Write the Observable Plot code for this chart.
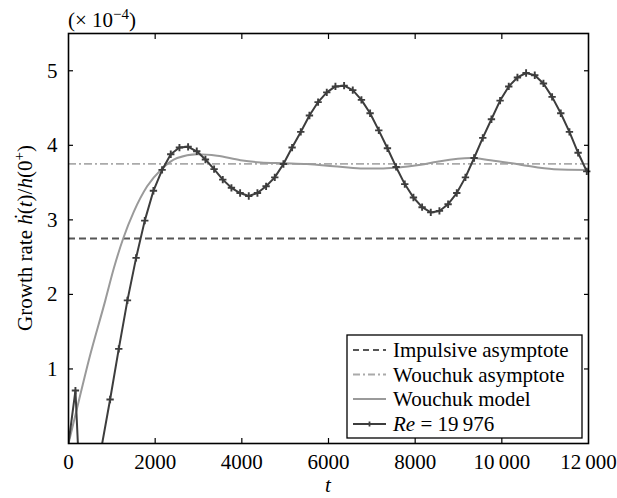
<!DOCTYPE html>
<html><head><meta charset="utf-8">
<script src="https://cdn.jsdelivr.net/npm/d3@7"></script>
<script src="https://cdn.jsdelivr.net/npm/@observablehq/plot@0.6"></script>
<style>
body{margin:0;background:#fff}
svg text{font-family:'Liberation Serif', serif !important}
</style>
</head><body><div id="chart"></div>
<script>
// Re = 19 976 simulation (t, growth rate ×1e-4)
const reT = [0,160,360,560,760,960,1160,1360,1560,1760,1960,2160,2360,2560,2760,2960,3160,3360,3560,3760,3960,4160,4360,4560,4760,4960,5160,5360,5560,5760,5960,6160,6360,6560,6760,6960,7160,7360,7560,7760,7960,8160,8360,8560,8760,8960,9160,9360,9560,9760,9960,10160,10360,10560,10760,10960,11160,11360,11560,11760,11960];
const reV = [0,0.71,-1.8,-1.0,-0.055,0.59,1.27,1.92,2.49,2.99,3.39,3.67,3.88,3.97,3.98,3.92,3.81,3.68,3.54,3.43,3.36,3.32,3.36,3.45,3.57,3.75,3.97,4.18,4.40,4.58,4.71,4.79,4.80,4.74,4.61,4.43,4.20,3.96,3.71,3.48,3.30,3.17,3.10,3.12,3.21,3.36,3.57,3.83,4.10,4.35,4.60,4.79,4.91,4.97,4.94,4.83,4.65,4.43,4.18,3.90,3.65];
// Wouchuk model
const wT = [0,250,470,850,1046,1262,1508,1815,2146,2508,2969,3431,3969,4431,4960,5500,6120,6738,7200,7546,8130,8508,9277,9739,10431,11200,12000];
const wV = [0,0.6,1.12,1.92,2.35,2.75,3.11,3.45,3.68,3.83,3.88,3.86,3.80,3.77,3.76,3.75,3.72,3.69,3.69,3.70,3.74,3.78,3.83,3.80,3.74,3.68,3.67];
const impulsiveAsym = 2.75;
const wouchukAsym = 3.75;
const xTicks = [0,2000,4000,6000,8000,10000,12000];
const xTicksInner = [2000,4000,6000,8000,10000];
const yTicks = [1,2,3,4,5];
const legendLabels = ["Impulsive asymptote","Wouchuk asymptote","Wouchuk model","Re = 19\u2009976"];

const re = reT.map((t,i)=>({t, v: reV[i]}));
const wouchuk = wT.map((t,i)=>({t, v: wV[i]}));
const fmtX = d => d >= 10000 ? String(d).replace(/(\d{2})(\d{3})$/, "$1\u2009$2") : String(d);

const dark = "#3d3d3d", grey = "#9a9a9a";
const ff = "Liberation Serif, serif";
const fs = 21;

const chart = Plot.plot({
  width: 617, height: 498,
  marginLeft: 68, marginRight: 29, marginTop: 33, marginBottom: 55,
  style: {fontFamily: ff, fontSize: fs + "px", background: "white", color: "black", overflow: "visible"},
  x: {domain: [0,12000], label: null},
  y: {domain: [0,5.5], label: null},
  marks: [
    Plot.ruleY([impulsiveAsym], {stroke: "#555", strokeWidth: 1.8, strokeDasharray: "7,4"}),
    Plot.ruleY([wouchukAsym], {stroke: "#aaa", strokeWidth: 1.8, strokeDasharray: "8,3,2,3"}),
    Plot.line(wouchuk, {x: "t", y: "v", stroke: grey, strokeWidth: 2, curve: "monotone-x", clip: true}),
    Plot.line(re, {x: "t", y: "v", stroke: dark, strokeWidth: 2, clip: true}),
    Plot.dot(re.filter(d => d.t > 0 && d.v >= 0), {x: "t", y: "v", symbol: "plus", r: 2.5, stroke: dark, strokeWidth: 1.9}),
    Plot.axisX({ticks: xTicks, tickSize: 0, tickPadding: 11, tickFormat: fmtX, fontSize: fs, label: null}),
    Plot.axisX({ticks: xTicksInner, tickSize: -5, fill: "none", label: null, stroke: "black", strokeWidth: 1.2}),
    Plot.axisX({anchor: "top", ticks: xTicksInner, tickSize: -5, fill: "none", label: null, stroke: "black", strokeWidth: 1.2}),
    Plot.axisY({ticks: yTicks, tickSize: 0, tickPadding: 11, tickFormat: d => String(d), fontSize: fs, label: null}),
    Plot.axisY({ticks: yTicks, tickSize: -5, fill: "none", label: null, stroke: "black", strokeWidth: 1.2}),
    Plot.axisY({anchor: "right", ticks: yTicks, tickSize: -5, fill: "none", label: null, stroke: "black", strokeWidth: 1.2}),
    Plot.frame({stroke: "black", strokeWidth: 1.6})
  ]
});
document.getElementById("chart").appendChild(chart);

const svg = d3.select(chart);
// exponent title
const ttl = svg.append("text").attr("x", 68).attr("y", 27).attr("text-anchor", "start")
  .style("font-size", fs + "px").attr("fill", "black");
ttl.append("tspan").text("(\u00d7 10");
ttl.append("tspan").attr("dy", -8).style("font-size", "15px").text("\u22124");
ttl.append("tspan").attr("dy", 8).text(")");
// y label
const yl = svg.append("text").attr("transform", "translate(32,238) rotate(-90)").attr("text-anchor", "middle")
  .style("font-size", fs + "px").attr("fill", "black");
yl.append("tspan").text("Growth rate ");
yl.append("tspan").attr("font-style", "italic").text("\u1e23");
yl.append("tspan").text("(");
yl.append("tspan").attr("font-style", "italic").text("t");
yl.append("tspan").text(")/");
yl.append("tspan").attr("font-style", "italic").text("h");
yl.append("tspan").text("(0");
yl.append("tspan").attr("dy", -8).style("font-size", "15px").text("+");
yl.append("tspan").attr("dy", 8).text(")");
// x label
svg.append("text").attr("x", 328).attr("y", 492).attr("text-anchor", "middle").style("font-size", fs + "px")
  .attr("font-style", "italic").attr("fill", "black").text("t");
// legend
const lg = svg.append("g");
lg.append("rect").attr("x", 347).attr("y", 335).attr("width", 235).attr("height", 103)
  .attr("fill", "white").attr("stroke", "black").attr("stroke-width", 1.3);
const rowsY = [350, 374.5, 399, 424];
const styles = [
  {stroke: "#555", dash: "6,4"},
  {stroke: "#aaa", dash: "7,3,2,3"},
  {stroke: grey, dash: null},
  {stroke: dark, dash: null}
];
legendLabels.forEach((lab, i) => {
  const y = rowsY[i];
  lg.append("line").attr("x1", 353).attr("x2", 386).attr("y1", y).attr("y2", y)
    .attr("stroke", styles[i].stroke).attr("stroke-width", 1.8).attr("stroke-dasharray", styles[i].dash);
  if (i === 3) {
    lg.append("path").attr("d", `M${369.5-2.5},${y}h5M369.5,${y-2.5}v5`).attr("stroke", dark).attr("stroke-width", 1.8);
  }
  const t = lg.append("text").attr("x", 393).attr("y", y + 7).attr("text-anchor", "start")
    .style("font-size", fs + "px").attr("fill", "black");
  if (i === 3) {
    t.append("tspan").attr("font-style", "italic").text("Re");
    t.append("tspan").text(" = 19\u2009976");
  } else t.text(lab);
});
</script>
</body></html>
